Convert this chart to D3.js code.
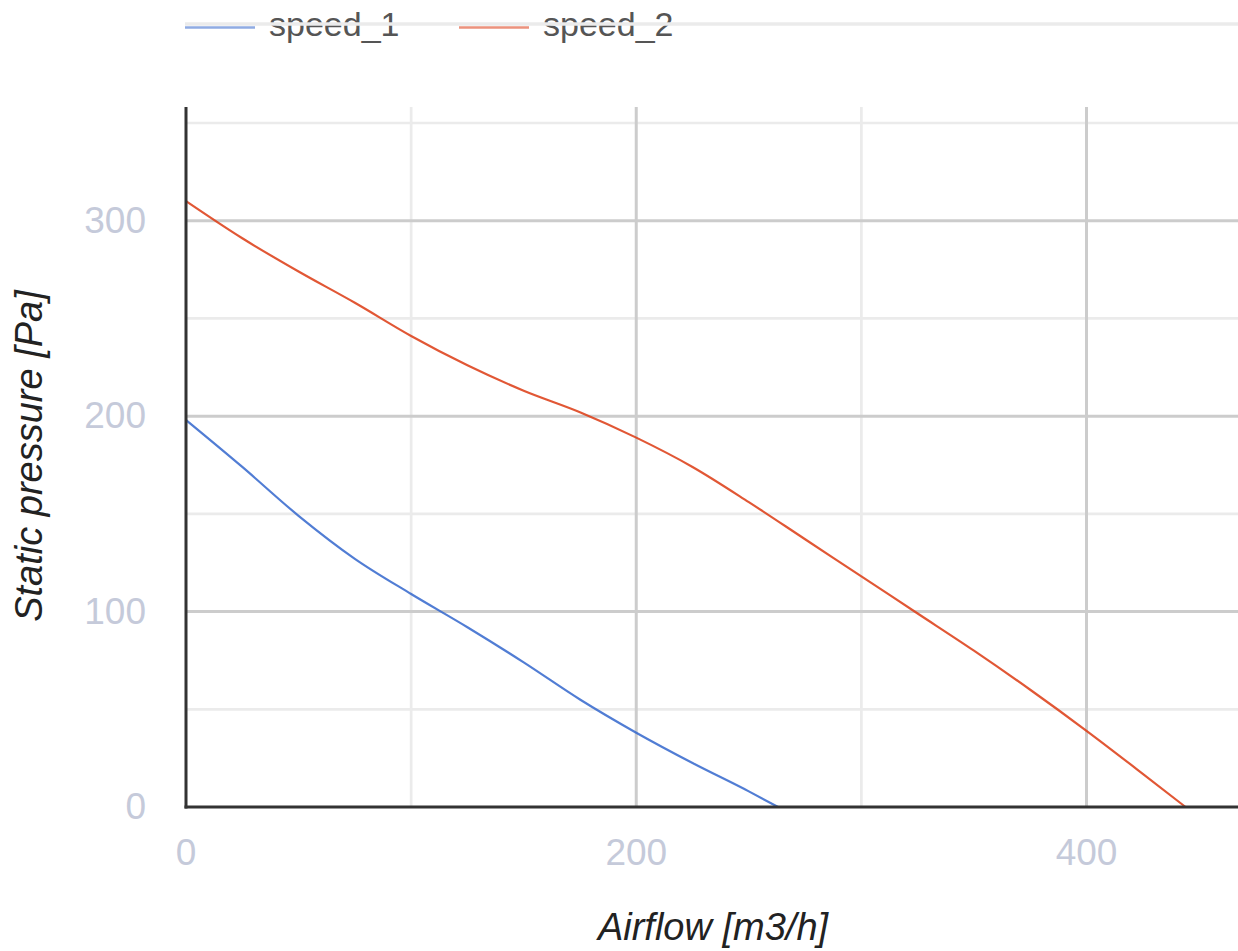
<!DOCTYPE html>
<html>
  <meta charset="utf-8" />
  <style>
    body { margin: 0; background: #fff; }
    text { font-family: "Liberation Sans", Arial, sans-serif; }
  </style>
  <svg width="1238" height="951"></svg>
  <script src="https://d3js.org/d3.v7.min.js"></script>
  <script>
    // fan curves
    const seriesNames = ["speed_1", "speed_2"];
    const seriesColors = ["#3366cc", "#dc3912"];

    const airflow1 = [0, 25, 50, 75, 100, 125, 150, 175, 200, 225, 250, 263];
    const pressure1 = [198, 174, 149, 127, 109, 92, 74, 55, 38, 22.5, 8, 0];

    const airflow2 = [0, 25, 50, 75, 100, 125, 150, 175, 200, 225, 250, 275, 300, 325, 350, 375, 400, 425, 444];
    const pressure2 = [310, 291, 274, 258, 241, 226, 213, 202, 189, 174, 156, 137, 118, 99, 80, 60, 39, 17, 0];

    const xTicks = [0, 200, 400];
    const xMinor = [100, 300];
    const yTicks = [0, 100, 200, 300];
    const yMinor = [50, 150, 250, 350];

    var svg = d3.select("svg");

    var plotLeft = 186, plotRight = 1238, plotTop = 107, plotBottom = 807;

    var x = d3.scaleLinear().domain([0, 400]).range([plotLeft, 1086.5]);
    var y = d3.scaleLinear().domain([0, 300]).range([plotBottom, 220.7]);

    // gridlines
    var grid = svg.append("g");
    grid.selectAll(".hminor")
      .data(yMinor)
      .join("line")
      .attr("x1", plotLeft).attr("x2", plotRight)
      .attr("y1", (d) => y(d)).attr("y2", (d) => y(d))
      .attr("stroke", "#ebebeb").attr("stroke-width", 2.7);
    grid.selectAll(".vminor")
      .data(xMinor)
      .join("line")
      .attr("x1", (d) => x(d)).attr("x2", (d) => x(d))
      .attr("y1", plotTop).attr("y2", plotBottom)
      .attr("stroke", "#ebebeb").attr("stroke-width", 2.7);
    grid.selectAll(".hmajor")
      .data(yTicks.filter((d) => d > 0))
      .join("line")
      .attr("x1", plotLeft).attr("x2", plotRight)
      .attr("y1", (d) => y(d)).attr("y2", (d) => y(d))
      .attr("stroke", "#cccccc").attr("stroke-width", 3);
    grid.selectAll(".vmajor")
      .data(xTicks.filter((d) => d > 0))
      .join("line")
      .attr("x1", (d) => x(d)).attr("x2", (d) => x(d))
      .attr("y1", plotTop).attr("y2", plotBottom)
      .attr("stroke", "#cccccc").attr("stroke-width", 3);

    // the two curves
    var line = d3.line()
      .x((d) => x(d[0]))
      .y((d) => y(d[1]))
      .curve(d3.curveMonotoneX);

    var curves = [
      d3.zip(airflow1, pressure1),
      d3.zip(airflow2, pressure2),
    ];

    svg.append("g")
      .selectAll("path")
      .data(curves)
      .join("path")
      .attr("d", line)
      .attr("fill", "none")
      .attr("stroke", (d, i) => seriesColors[i])
      .attr("stroke-width", 2.2)
      .attr("stroke-opacity", 0.85);

    // axis lines
    svg.append("line")
      .attr("x1", plotLeft).attr("x2", plotLeft)
      .attr("y1", plotTop).attr("y2", plotBottom + 1.5)
      .attr("stroke", "#333").attr("stroke-width", 3);
    svg.append("line")
      .attr("x1", plotLeft - 1.5).attr("x2", plotRight)
      .attr("y1", plotBottom).attr("y2", plotBottom)
      .attr("stroke", "#333").attr("stroke-width", 3);

    // tick labels
    svg.append("g")
      .selectAll("text")
      .data(yTicks)
      .join("text")
      .attr("x", 146)
      .attr("y", (d) => y(d) + 12)
      .attr("text-anchor", "end")
      .attr("font-size", 37)
      .attr("fill", "#c5cada")
      .text((d) => d);

    svg.append("g")
      .selectAll("text")
      .data(xTicks)
      .join("text")
      .attr("x", (d) => x(d))
      .attr("y", 865)
      .attr("text-anchor", "middle")
      .attr("font-size", 37)
      .attr("fill", "#c5cada")
      .text((d) => d);

    // axis titles
    svg.append("text")
      .attr("x", 713)
      .attr("y", 940)
      .attr("text-anchor", "middle")
      .attr("font-size", 38)
      .attr("font-style", "italic")
      .attr("fill", "#222")
      .text("Airflow [m3/h]");

    svg.append("text")
      .attr("transform", "translate(42,456) rotate(-90)")
      .attr("text-anchor", "middle")
      .attr("font-size", 38)
      .attr("font-style", "italic")
      .attr("fill", "#222")
      .text("Static pressure [Pa]");

    // legend
    var legendX = [185, 459];
    var legend = svg.append("g")
      .selectAll("g")
      .data(seriesNames)
      .join("g")
      .attr("transform", (d, i) => "translate(" + legendX[i] + ",0)");
    legend.append("line")
      .attr("x1", 0).attr("x2", 70)
      .attr("y1", 27.5).attr("y2", 27.5)
      .attr("stroke", (d, i) => seriesColors[i])
      .attr("stroke-opacity", 0.55)
      .attr("stroke-width", 2.7);
    legend.append("text")
      .attr("x", 84)
      .attr("y", 36)
      .attr("font-size", 34)
      .attr("fill", "#555")
      .text((d) => d);

    // light rule running through the legend
    svg.append("line")
      .attr("x1", plotLeft - 1).attr("x2", plotRight)
      .attr("y1", 24).attr("y2", 24)
      .attr("stroke", "#ebebeb").attr("stroke-width", 3.5);
  </script>
</html>
